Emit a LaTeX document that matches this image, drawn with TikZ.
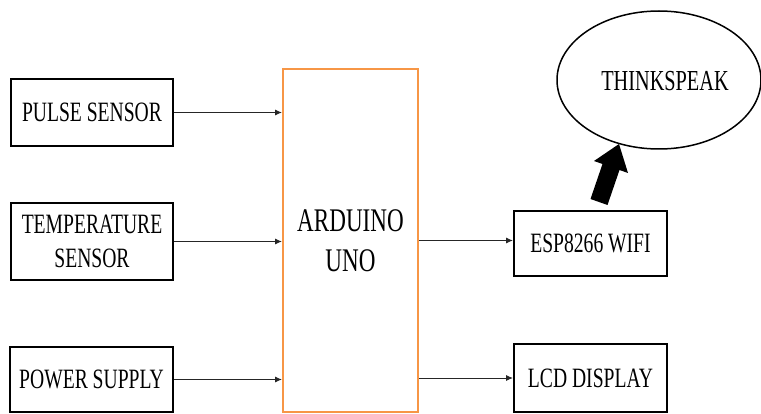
\documentclass[tikz,border=0pt]{standalone}
\usepackage{fontspec}
\setmainfont{Liberation Serif}[FakeStretch=0.7]
\usetikzlibrary{shapes.geometric,arrows.meta}
\definecolor{ardorange}{HTML}{F79646}
\begin{document}
\begin{tikzpicture}[x=1pt,y=-1pt,
  blk/.style={draw=black,line width=2pt,inner sep=0pt,align=center,
    font=\fontsize{28}{34}\selectfont},
  ardbox/.style={draw=ardorange,line width=2pt,inner sep=0pt,align=center,
    font=\fontsize{33}{40}\selectfont},
  cloud/.style={ellipse,draw=black,line width=1.5pt,inner sep=0pt,
    font=\fontsize{28}{34}\selectfont},
  conn/.style={draw=black!85,line width=0.9pt,-{Latex[length=7pt,width=6pt]}}]
\useasboundingbox (0,0) rectangle (761,414);
\node[blk,minimum width=162pt,minimum height=67pt] (pulse) at (92,112.5) {PULSE SENSOR};
\node[blk,minimum width=162pt,minimum height=77pt] (temp) at (92,241.5) {TEMPERATURE\\SENSOR};
\node[blk,minimum width=163pt,minimum height=65pt] (power) at (91.5,379.5) {POWER SUPPLY};
\node[ardbox,minimum width=135pt,minimum height=343pt] (ard) at (350.5,240.5) {ARDUINO\\UNO};
\node[blk,minimum width=153pt,minimum height=65pt] (esp) at (590.5,243.5) {ESP8266 WIFI};
\node[blk,minimum width=153pt,minimum height=68pt] (lcd) at (590.5,378) {LCD DISPLAY};
\node[cloud,minimum width=204pt,minimum height=138pt] (ts) at (659,80) {};
\node[font=\fontsize{29}{34}\selectfont] (tslabel) at (665,81) {THINKSPEAK};
\draw[conn] (pulse) -- (pulse -| ard.west);
\draw[conn] (temp) -- (temp -| ard.west);
\draw[conn] (power) -- (power -| ard.west);
\draw[conn] (ard) -- (ard -| esp.west);
\draw[conn] (lcd -| ard.east) -- (lcd);
\fill[black] (590.5,199) -- (607.5,205) -- (619.5,170) -- (628,173) -- (619,144)
  -- (594,161) -- (602.5,164) -- cycle;
\end{tikzpicture}
\end{document}
